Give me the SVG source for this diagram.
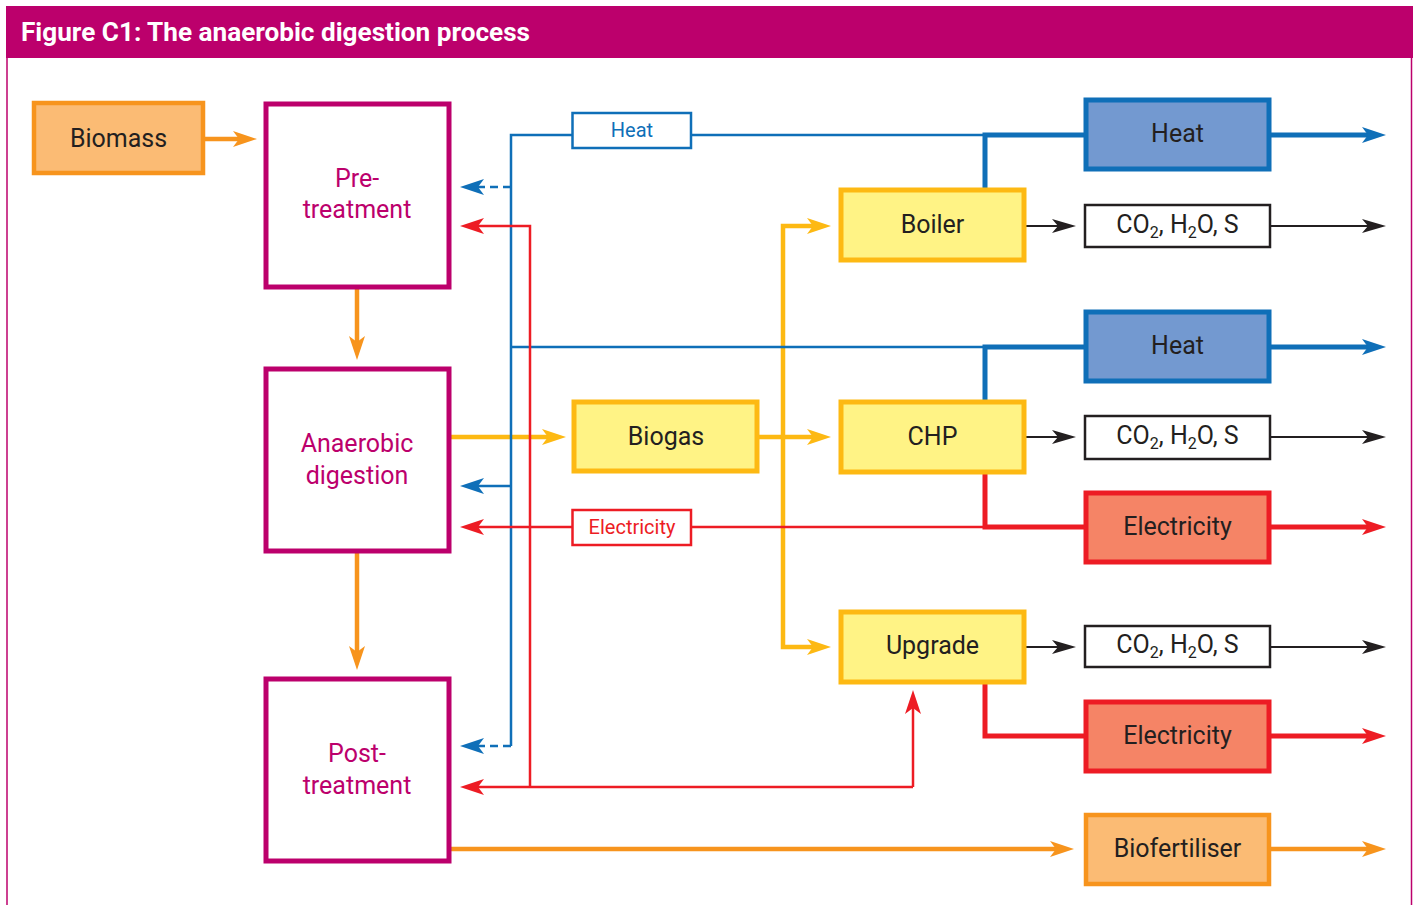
<svg xmlns="http://www.w3.org/2000/svg" width="1416" height="905" viewBox="0 0 1416 905">
<style>
text{font-family:Roboto,"Open Sans","Liberation Sans",sans-serif;text-anchor:middle}
.lbl{font-size:25px;fill:#231F20}
.mag{font-size:25px;fill:#BC006C}
.proc{fill:#fff;stroke:#BC006C;stroke-width:5}
.yel{fill:#FFF385;stroke:#FDB913;stroke-width:5}
.org{fill:#FBBB74;stroke:#F7941D;stroke-width:4.5}
.blu{fill:#7399D0;stroke:#0F6FB8;stroke-width:5}
.red{fill:#F58466;stroke:#ED1C24;stroke-width:5}
.gas{fill:#fff;stroke:#231F20;stroke-width:2.5}
.c{fill:none;stroke-linejoin:miter;stroke-linecap:butt}
.co{stroke:#F7941D;stroke-width:4.5}
.cy{stroke:#FDB913;stroke-width:4.5}
.cb{stroke:#0F6FB8;stroke-width:2.5}
.cbt{stroke:#0F6FB8;stroke-width:5}
.cr{stroke:#ED1C24;stroke-width:2.5}
.crt{stroke:#ED1C24;stroke-width:5}
.ck{stroke:#231F20;stroke-width:2.2}
.dash{stroke-dasharray:8 5}
</style>
<defs>
<marker id="aO" markerUnits="userSpaceOnUse" markerWidth="28" markerHeight="20" viewBox="-14 -10 28 20" refX="0" refY="0" orient="auto"><path d="M-12,-8 L12,0 L-12,8 L-6,0 Z" fill="#F7941D"/></marker>
<marker id="aY" markerUnits="userSpaceOnUse" markerWidth="28" markerHeight="20" viewBox="-14 -10 28 20" refX="0" refY="0" orient="auto-start-reverse"><path d="M-12,-8 L12,0 L-12,8 L-6,0 Z" fill="#FDB913"/></marker>
<marker id="aB" markerUnits="userSpaceOnUse" markerWidth="28" markerHeight="20" viewBox="-14 -10 28 20" refX="0" refY="0" orient="auto"><path d="M-12,-8 L12,0 L-12,8 L-6,0 Z" fill="#0F6FB8"/></marker>
<marker id="aR" markerUnits="userSpaceOnUse" markerWidth="28" markerHeight="20" viewBox="-14 -10 28 20" refX="0" refY="0" orient="auto"><path d="M-12,-8 L12,0 L-12,8 L-6,0 Z" fill="#ED1C24"/></marker>
<marker id="aK" markerUnits="userSpaceOnUse" markerWidth="28" markerHeight="20" viewBox="-14 -10 28 20" refX="0" refY="0" orient="auto"><path d="M-12,-7 L12,0 L-12,7 L-6,0 Z" fill="#231F20"/></marker>
</defs>

<g id="frame">
<rect x="6" y="6" width="1407" height="52" fill="#BC006C"/>
<line x1="7" y1="58" x2="7" y2="905" stroke="#BC006C" stroke-width="1.5"/>
<line x1="1411.5" y1="58" x2="1411.5" y2="905" stroke="#BC006C" stroke-width="1.5"/>
<text x="21" y="41" style="text-anchor:start;font-size:25px;font-weight:700;fill:#fff" textLength="509" lengthAdjust="spacingAndGlyphs">Figure C1: The anaerobic digestion process</text>
</g>

<g id="connectors">
<path class="c co" d="M204,139 H245" marker-end="url(#aO)"/>
<path class="c co" d="M357,288 V348" marker-end="url(#aO)"/>
<path class="c co" d="M357,552 V658" marker-end="url(#aO)"/>
<path class="c co" d="M450,849 H1062" marker-end="url(#aO)"/>
<path class="c co" d="M1270,849 H1374" marker-end="url(#aO)"/>
<path class="c cy" d="M450,437 H554" marker-end="url(#aY)"/>
<path class="c cy" d="M758,437 H819" marker-end="url(#aY)"/>
<path class="c cy" d="M819,226 H783 V647 H819" marker-start="url(#aY)" marker-end="url(#aY)"/>
<path class="c cb" d="M985,135 H511 V746"/>
<path class="c cb" d="M511,347 H985"/>
<path class="c cb dash" d="M511,187 H472" marker-end="url(#aB)"/>
<path class="c cb" d="M511,486 H472" marker-end="url(#aB)"/>
<path class="c cb dash" d="M511,746 H472" marker-end="url(#aB)"/>
<path class="c cbt" d="M985,189 V135 H1085"/>
<path class="c cbt" d="M985,401 V347 H1085"/>
<path class="c cbt" d="M1270,135 H1374" marker-end="url(#aB)"/>
<path class="c cbt" d="M1270,347 H1374" marker-end="url(#aB)"/>
<path class="c cr" d="M530,787 V226 H472" marker-end="url(#aR)"/>
<path class="c cr" d="M913,787 H472" marker-end="url(#aR)"/>
<path class="c cr" d="M913,787 V702" marker-end="url(#aR)"/>
<path class="c cr" d="M985,527 H472" marker-end="url(#aR)"/>
<path class="c crt" d="M985,472 V527 H1085"/>
<path class="c crt" d="M985,683 V736 H1085"/>
<path class="c crt" d="M1270,527 H1374" marker-end="url(#aR)"/>
<path class="c crt" d="M1270,736 H1374" marker-end="url(#aR)"/>
<path class="c ck" d="M1025,226 H1064" marker-end="url(#aK)"/>
<path class="c ck" d="M1270,226 H1374" marker-end="url(#aK)"/>
<path class="c ck" d="M1025,437 H1064" marker-end="url(#aK)"/>
<path class="c ck" d="M1270,437 H1374" marker-end="url(#aK)"/>
<path class="c ck" d="M1025,647 H1064" marker-end="url(#aK)"/>
<path class="c ck" d="M1270,647 H1374" marker-end="url(#aK)"/>
</g>

<g id="heat-label">
<rect x="572.5" y="113" width="118.5" height="35" fill="#fff" stroke="#0F6FB8" stroke-width="2.5"/>
<text x="632" y="137" style="font-size:20px;fill:#0F6FB8">Heat</text>
</g>
<g id="electricity-label">
<rect x="572.5" y="510" width="118.5" height="35" fill="#fff" stroke="#ED1C24" stroke-width="2.5"/>
<text x="632" y="534" style="font-size:20px;fill:#ED1C24">Electricity</text>
</g>

<g id="biomass">
<rect class="org" x="34" y="103" width="169" height="70"/>
<text class="lbl" x="118.5" y="147">Biomass</text>
</g>
<g id="pretreatment">
<rect class="proc" x="266" y="104" width="183" height="183"/>
<text class="mag" x="357" y="187">Pre-</text>
<text class="mag" x="357" y="218">treatment</text>
</g>
<g id="anaerobic-digestion">
<rect class="proc" x="266" y="369" width="183" height="182"/>
<text class="mag" x="357" y="452">Anaerobic</text>
<text class="mag" x="357" y="484">digestion</text>
</g>
<g id="posttreatment">
<rect class="proc" x="266" y="679" width="183" height="182"/>
<text class="mag" x="357" y="762">Post-</text>
<text class="mag" x="357" y="794">treatment</text>
</g>
<g id="biogas">
<rect class="yel" x="574" y="402" width="183" height="69"/>
<text class="lbl" x="666" y="445">Biogas</text>
</g>
<g id="boiler">
<rect class="yel" x="841" y="190" width="183" height="70"/>
<text class="lbl" x="932.5" y="233">Boiler</text>
</g>
<g id="chp">
<rect class="yel" x="841" y="402" width="183" height="70"/>
<text class="lbl" x="932.5" y="445">CHP</text>
</g>
<g id="upgrade">
<rect class="yel" x="841" y="612" width="183" height="70"/>
<text class="lbl" x="932.5" y="654">Upgrade</text>
</g>
<g id="heat-1">
<rect class="blu" x="1086" y="100" width="183" height="69"/>
<text class="lbl" x="1177.5" y="142">Heat</text>
</g>
<g id="gas-1">
<rect class="gas" x="1085" y="205" width="185" height="42"/>
<text class="lbl" x="1177.5" y="233">CO<tspan font-size="16" dy="5">2</tspan><tspan dy="-5">, H</tspan><tspan font-size="16" dy="5">2</tspan><tspan dy="-5">O, S</tspan></text>
</g>
<g id="heat-2">
<rect class="blu" x="1086" y="312" width="183" height="69"/>
<text class="lbl" x="1177.5" y="354">Heat</text>
</g>
<g id="gas-2">
<rect class="gas" x="1085" y="416" width="185" height="43"/>
<text class="lbl" x="1177.5" y="444">CO<tspan font-size="16" dy="5">2</tspan><tspan dy="-5">, H</tspan><tspan font-size="16" dy="5">2</tspan><tspan dy="-5">O, S</tspan></text>
</g>
<g id="electricity-1">
<rect class="red" x="1086" y="493" width="183" height="69"/>
<text class="lbl" x="1177.5" y="535">Electricity</text>
</g>
<g id="gas-3">
<rect class="gas" x="1085" y="626" width="185" height="41"/>
<text class="lbl" x="1177.5" y="653">CO<tspan font-size="16" dy="5">2</tspan><tspan dy="-5">, H</tspan><tspan font-size="16" dy="5">2</tspan><tspan dy="-5">O, S</tspan></text>
</g>
<g id="electricity-2">
<rect class="red" x="1086" y="702" width="183" height="69"/>
<text class="lbl" x="1177.5" y="744">Electricity</text>
</g>
<g id="biofertiliser">
<rect class="org" x="1086" y="815" width="183" height="69"/>
<text class="lbl" x="1177.5" y="857">Biofertiliser</text>
</g>
</svg>
